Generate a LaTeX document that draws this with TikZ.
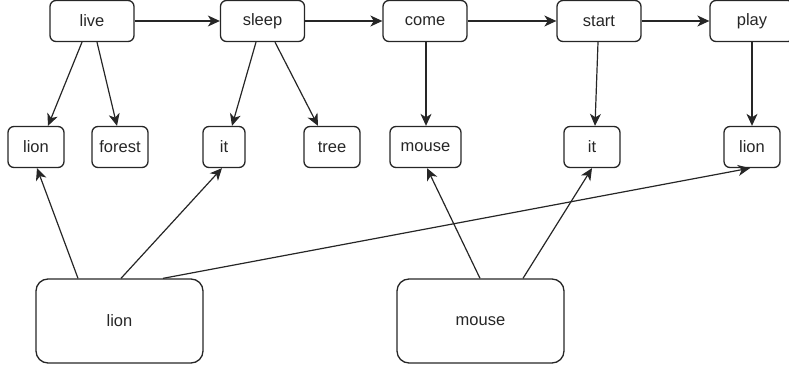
\documentclass[tikz,border=0pt]{standalone}
\usepackage{fontspec}
\setmainfont{Liberation Sans}
\usetikzlibrary{arrows.meta,calc}
\begin{document}
\begin{tikzpicture}[x=1pt,y=-1pt,
  box/.style={draw=black!85,line width=1.3pt,rounded corners=6pt,inner sep=0pt,
    minimum height=41pt,font=\fontsize{16.5}{19}\selectfont,text=black!85},
  bigbox/.style={box,rounded corners=12pt,minimum width=167pt,minimum height=84pt},
  arr/.style={draw=black!85,line width=1.2pt,-{Stealth[length=12pt,width=11pt,inset=3.5pt]}}]
\useasboundingbox (0,0) rectangle (789,371);
% top row
\node[box,minimum width=84pt] (live)  at (92,21) {live};
\node[box,minimum width=84pt] (sleep) at (262.5,21) {sleep};
\node[box,minimum width=84pt] (come)  at (425,21) {come};
\node[box,minimum width=84pt] (start) at (599,21) {start};
\node[box,minimum width=84pt] (play)  at (752,21) {play};
% second row
\node[box,minimum width=56pt] (lion1)  at (36,147) {lion};
\node[box,minimum width=56pt] (forest) at (120,147) {forest};
\node[box,minimum width=42pt] (it1)    at (224,147) {it};
\node[box,minimum width=56pt] (tree)   at (332,147) {tree};
\node[box,minimum width=71pt] (mouse)  at (425.5,147) {mouse};
\node[box,minimum width=56pt] (it2)    at (592,147) {it};
\node[box,minimum width=56pt] (lion2)  at (752,147) {lion};
% bottom row
\node[bigbox] (lionB)  at (119.5,321) {lion};
\node[bigbox] (mouseB) at (480.5,321) {mouse};
% top chain
\draw[arr] (live.east) -- (sleep.west);
\draw[arr] (sleep.east) -- (come.west);
\draw[arr] (come.east) -- (start.west);
\draw[arr] (start.east) -- (play.west);
% top to second row
\draw[arr] ([xshift=-10pt]live.south) -- ([xshift=12pt]lion1.north);
\draw[arr] ([xshift=5pt]live.south) -- ([xshift=-3pt]forest.north);
\draw[arr] ([xshift=-6.5pt]sleep.south) -- ([xshift=8pt]it1.north);
\draw[arr] ([xshift=12.5pt]sleep.south) -- ([xshift=-14pt]tree.north);
\draw[arr] ([xshift=1pt]come.south) -- ([xshift=1pt]come.south |- mouse.north);
\draw[arr] ([xshift=-1pt]start.south) -- ([xshift=3pt]it2.north);
\draw[arr] (play.south) -- (lion2.north);
% bottom to second row
\draw[arr] ([xshift=-41.5pt]lionB.north) -- ([xshift=1pt]lion1.south);
\draw[arr] ([xshift=1.5pt]lionB.north) -- ([xshift=-2pt]it1.south);
\draw[arr] ([xshift=43.5pt]lionB.north) -- ([xshift=-2pt]lion2.south);
\draw[arr] ([xshift=-0.5pt]mouseB.north) -- ([xshift=1.5pt]mouse.south);
\draw[arr] ([xshift=42.5pt]mouseB.north) -- (it2.south);
\end{tikzpicture}
\end{document}
